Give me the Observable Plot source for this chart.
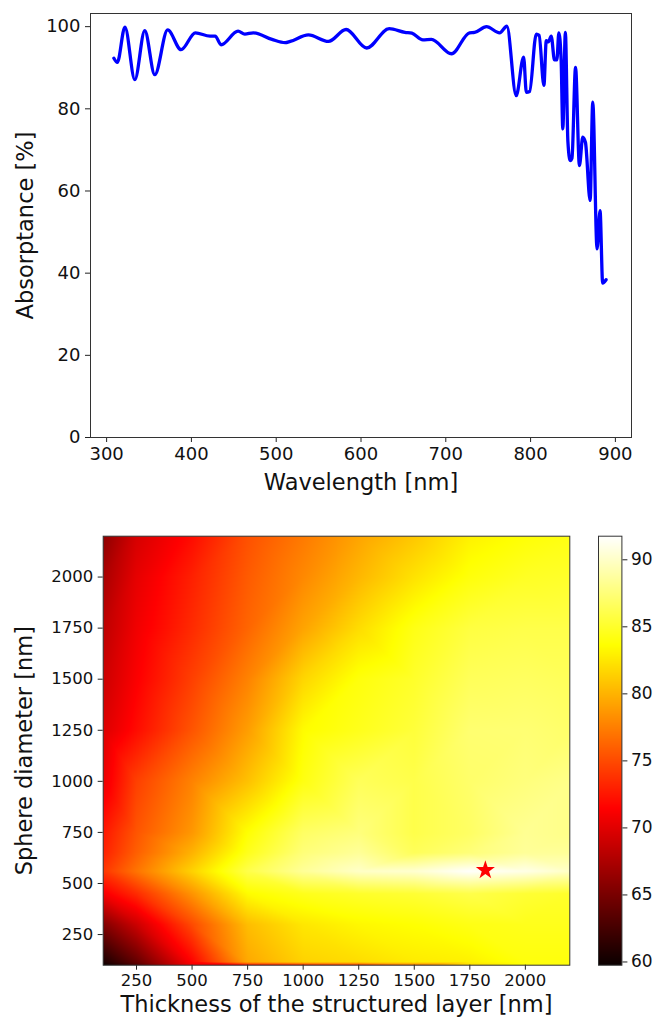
<!DOCTYPE html>
<html>
<head>
<meta charset="utf-8">
<script src="https://cdn.jsdelivr.net/npm/d3@7"></script>
<script src="https://cdn.jsdelivr.net/npm/@observablehq/plot@0.6"></script>
<style>
  html, body { margin: 0; padding: 0; background: #fff; }
  #page { position: relative; width: 656px; height: 1020px; overflow: hidden; font-family: "DejaVu Sans", sans-serif; }
  #page > div, #page > svg { position: absolute; }
</style>
</head>
<body>
<div id="page"></div>
<script>
// ---------- Top panel: absorptance spectrum ----------
const wavelength = [308.6, 312.6, 321.6, 333.3, 345, 356.8, 372, 387.8, 404.7, 422, 428, 435, 455, 463, 473, 495, 510.6, 516.5, 538, 561.6, 582.4, 606.7, 633.3, 651.8, 660, 673, 683, 706.7, 728, 734, 748, 763.5, 772, 783, 791.8, 795, 798.8, 806.7, 810, 815.7, 818.5, 821, 824.3, 828.2, 831, 833.3, 836, 838, 841, 844, 846.7, 848.8, 853, 857.6, 861.5, 864.7, 870.2, 873.3, 878.4, 881.9, 885, 889];
const absorptance = [92.3, 91.3, 99.9, 87.1, 99.0, 88.3, 99.2, 94.4, 98.5, 97.7, 97.7, 95.6, 98.9, 98.2, 98.5, 96.9, 96.1, 96.4, 98.0, 96.4, 99.3, 94.8, 99.5, 98.6, 98.4, 96.8, 96.9, 93.4, 98.5, 98.6, 100.0, 98.5, 100.1, 83.2, 92.6, 84.0, 84.2, 98.2, 97.9, 85.7, 96.6, 96.3, 97.7, 91.9, 91.9, 98.5, 92.0, 75.1, 98.6, 72.0, 67.4, 68.0, 90.1, 66.2, 73.1, 71.8, 57.7, 81.6, 45.9, 55.2, 37.6, 38.4];
const wavelengthTicks = [300, 400, 500, 600, 700, 800, 900];
const absorptanceTicks = [0, 20, 40, 60, 80, 100];
const spectrumXLabel = "Wavelength [nm]";
const spectrumYLabel = "Absorptance [%]";

// ---------- Bottom panel: heat map ----------
const thickness = [100, 250, 500, 750, 1000, 1250, 1500, 1750, 2000, 2200];
const diameter = [100, 115, 300, 450, 560, 650, 750, 1000, 1250, 1500, 1750, 2000, 2200];
const row100  = [59.8, 63.0, 71.0, 72.0, 73.0, 74.0, 77.0, 82.0, 84.0, 84.0];
const row115  = [60.5, 64.0, 71.5, 79.5, 81.5, 82.0, 82.7, 83.0, 84.0, 84.0];
const row300  = [65.5, 69.0, 75.0, 80.5, 82.5, 83.3, 83.7, 84.3, 84.5, 84.5];
const row450  = [71.0, 73.5, 78.5, 83.5, 84.5, 85.0, 85.3, 86.0, 85.3, 85.0];
const row560  = [74.0, 77.0, 81.5, 86.0, 88.5, 90.0, 90.3, 91.7, 91.0, 90.0];
const row650  = [73.0, 76.0, 80.0, 84.5, 87.5, 88.5, 86.5, 87.5, 88.5, 88.5];
const row750  = [72.5, 75.5, 78.7, 83.7, 86.8, 87.6, 86.0, 86.8, 88.3, 88.0];
const row1000 = [70.5, 74.5, 77.7, 80.7, 84.2, 86.5, 86.0, 87.0, 87.6, 88.0];
const row1250 = [69.8, 72.0, 75.5, 79.0, 83.5, 84.5, 85.5, 87.2, 87.3, 87.0];
const row1500 = [69.0, 71.3, 74.5, 77.7, 81.7, 84.0, 85.0, 86.5, 86.7, 86.5];
const row1750 = [68.3, 70.8, 73.5, 76.3, 79.3, 82.0, 84.3, 85.7, 86.0, 86.0];
const row2000 = [67.3, 70.3, 73.0, 75.8, 78.0, 80.2, 82.3, 84.0, 84.8, 85.0];
const row2200 = [66.0, 69.5, 72.0, 75.3, 77.3, 79.3, 81.0, 83.0, 83.8, 84.2];
const heatRows = [row100, row115, row300, row450, row560, row650, row750, row1000, row1250, row1500, row1750, row2000, row2200];
const heatTicks = [250, 500, 750, 1000, 1250, 1500, 1750, 2000];
const heatXLabel = "Thickness of the structured layer [nm]";
const heatYLabel = "Sphere diameter [nm]";
const optimumThickness = [1820];
const optimumDiameter = [565];
const colorMin = 59.76, colorMax = 91.76;
const colorTicks = [60, 65, 70, 75, 80, 85, 90];

// ---------- helpers ----------
const spectrum = wavelength.map((w, i) => ({w, a: absorptance[i]}));
const heatPoints = [];
diameter.forEach((d, j) => thickness.forEach((t, i) => heatPoints.push({t, d, v: heatRows[j][i]})));
const optimum = optimumThickness.map((t, i) => ({t, d: optimumDiameter[i]}));

const span = colorMax - colorMin;
const hotColor = {
  type: "linear",
  domain: [colorMin, colorMin + 0.365079 * span, colorMin + 0.746032 * span, colorMax],
  range: ["#0b0000", "#ff0000", "#ffff00", "#ffffff"],
  interpolate: "rgb",
  clamp: true
};

const baseStyle = {fontFamily: "DejaVu Sans, sans-serif", fontSize: "18px", color: "#111", background: "transparent", overflow: "visible"};
const page = document.getElementById("page");

// Top chart
const spectrumChart = Plot.plot({
  width: 656, height: 500,
  marginLeft: 90, marginRight: 25, marginTop: 13, marginBottom: 63,
  style: baseStyle,
  x: {domain: [281, 919]},
  y: {domain: [0, 103.2]},
  marks: [
    Plot.axisX({ticks: wavelengthTicks, tickSize: 5, tickPadding: 5, label: null, fontSize: 18, stroke: "#222"}),
    Plot.axisY({ticks: absorptanceTicks, tickSize: 5, tickPadding: 5, label: null, fontSize: 18, stroke: "#222"}),
    Plot.text([spectrumXLabel], {frameAnchor: "bottom", dy: 45, lineAnchor: "middle", textAnchor: "middle", fontSize: 22.5, fill: "#111"}),
    Plot.text([spectrumYLabel], {frameAnchor: "left", dx: -65, rotate: -90, lineAnchor: "middle", textAnchor: "middle", fontSize: 22.5, fill: "#111"}),
    Plot.line(spectrum, {x: "w", y: "a", stroke: "#0000ff", strokeWidth: 3.3, curve: "monotone-x"}),
    Plot.frame({stroke: "#333", strokeWidth: 1})
  ]
});
spectrumChart.style.left = "0px"; spectrumChart.style.top = "0px";
page.appendChild(spectrumChart);

// Heat map
const heatChart = Plot.plot({
  width: 656, height: 520,
  marginLeft: 102.7, marginRight: 86.7, marginTop: 35.7, marginBottom: 55.3,
  style: baseStyle,
  x: {domain: [100, 2200]},
  y: {domain: [100, 2200]},
  color: hotColor,
  marks: [
    Plot.raster(heatPoints, {x: "t", y: "d", fill: "v", interpolate: "barycentric", x1: 100, x2: 2200, y1: 100, y2: 2200, pixelSize: 1}),
    Plot.axisX({ticks: heatTicks, tickFormat: "d", tickSize: 5, tickPadding: 4, label: null, fontSize: 16.5, stroke: "#222"}),
    Plot.axisY({ticks: heatTicks, tickFormat: "d", tickSize: 5, tickPadding: 5, label: null, fontSize: 16.5, stroke: "#222"}),
    Plot.text([heatXLabel], {frameAnchor: "bottom", dy: 39.5, lineAnchor: "middle", textAnchor: "middle", fontSize: 22.5, fill: "#111"}),
    Plot.text([heatYLabel], {frameAnchor: "left", dx: -78, rotate: -90, lineAnchor: "middle", textAnchor: "middle", fontSize: 22.5, fill: "#111"}),
    Plot.dot(optimum, {x: "t", y: "d", symbol: "star", fill: "#ff0000", stroke: "none", r: 6}),
    Plot.frame({stroke: "#333", strokeWidth: 1})
  ]
});
heatChart.style.left = "0px"; heatChart.style.top = "500px";
page.appendChild(heatChart);

// Colour bar
const colorBar = Plot.plot({
  width: 58, height: 520,
  marginLeft: 0, marginRight: 34.6, marginTop: 35.7, marginBottom: 55.3,
  style: baseStyle,
  x: {domain: [0, 1], axis: null},
  y: {domain: [colorMin, colorMax]},
  color: hotColor,
  marks: [
    Plot.raster({fill: (x, y) => y, x1: 0, x2: 1, y1: colorMin, y2: colorMax, pixelSize: 1}),
    Plot.axisY({anchor: "right", ticks: colorTicks, tickSize: 5, tickPadding: 4, label: null, fontSize: 17, stroke: "#222"}),
    Plot.frame({stroke: "#333", strokeWidth: 1})
  ]
});
colorBar.style.left = "598.3px"; colorBar.style.top = "500px";
page.appendChild(colorBar);
</script>
</body>
</html>
